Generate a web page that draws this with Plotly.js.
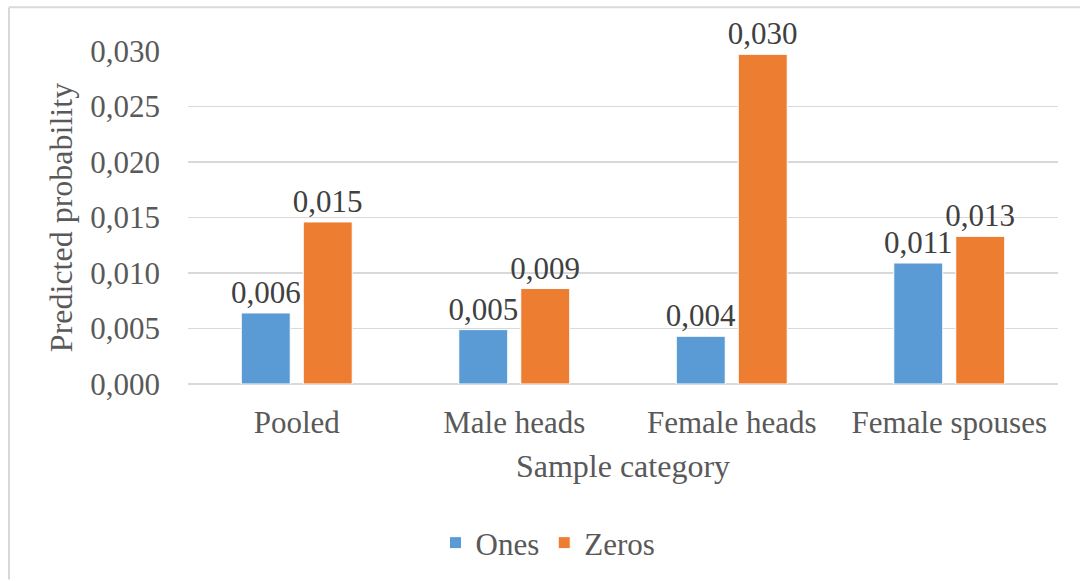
<!DOCTYPE html>
<html>
<head>
<meta charset="utf-8">
<script src="https://cdn.plot.ly/plotly-3.0.1.min.js"></script>
<style>
html,body{margin:0;padding:0;background:#fff;}
#chart{width:1080px;height:581px;}
</style>
</head>
<body>
<div id="chart"></div>
<script>
const categories = ["Pooled", "Male heads", "Female heads", "Female spouses"];
const onesValues = [0.0064, 0.0049, 0.0043, 0.0109];
const zerosValues = [0.0146, 0.0086, 0.0297, 0.0133];
const yTickValues = [0, 0.005, 0.01, 0.015, 0.02, 0.025, 0.03];

const fmt = v => v.toFixed(3).replace('.', ',');
const FONT = '"Liberation Serif", "Times New Roman", serif';

const common = {
  type: 'bar',
  x: categories,
  textposition: 'outside',
  constraintext: 'none',
  cliponaxis: false,
  textfont: {family: FONT, size: 31, color: '#404040'},
  hoverinfo: 'none'
};

const traces = [
  Object.assign({}, common, {
    name: 'Ones', y: onesValues, text: onesValues.map(fmt),
    marker: {color: '#5B9BD5', line: {color: '#ffffff', width: 1}}
  }),
  Object.assign({}, common, {
    name: 'Zeros', y: zerosValues, text: zerosValues.map(fmt),
    marker: {color: '#ED7D31', line: {color: '#ffffff', width: 1}}
  })
];

const L = 188, R = 22, T = 51, B = 196;
const W = 1080 - L - R, H = 581 - T - B;
const px = x => (x - L) / W;
const py = y => (581 - B - y) / H;

const layout = {
  width: 1080, height: 581,
  margin: {l: L, r: R, t: T, b: B, pad: 0},
  paper_bgcolor: '#ffffff', plot_bgcolor: '#ffffff',
  separators: ', ',
  barmode: 'group',
  bargap: 0.43,
  bargroupgap: 0.21,
  font: {family: FONT, size: 31, color: '#595959'},
  showlegend: true,
  legend: {
    orientation: 'h', x: px(548), xanchor: 'center', y: py(543), yanchor: 'middle',
    font: {family: FONT, size: 31, color: '#595959'},
    itemwidth: 30, tracegroupgap: 0
  },
  xaxis: {
    showgrid: false, showline: false, zeroline: false,
    ticks: '', ticklabelstandoff: 17,
    tickfont: {family: FONT, size: 31, color: '#595959'},
    title: {text: 'Sample category', standoff: 15, font: {family: FONT, size: 32, color: '#595959'}},
    automargin: false
  },
  yaxis: {
    range: [0, 0.03],
    tickvals: yTickValues,
    tickformat: '.3f',
    showgrid: true, gridcolor: '#d9d9d9', gridwidth: 1.5,
    zeroline: true, zerolinecolor: '#d9d9d9', zerolinewidth: 1.5,
    showline: false, ticks: '', ticklabelstandoff: 27,
    tickfont: {family: FONT, size: 31, color: '#595959'},
    title: {text: 'Predicted probability', standoff: 8, font: {family: FONT, size: 32, color: '#595959'}},
    automargin: false
  },
  shapes: [
    {type: 'line', xref: 'paper', yref: 'paper', x0: px(9), x1: px(1080), y0: py(7), y1: py(7),
     line: {color: '#d9d9d9', width: 2}},
    {type: 'line', xref: 'paper', yref: 'paper', x0: px(9), x1: px(9), y0: py(7), y1: py(581),
     line: {color: '#d9d9d9', width: 2}}
  ]
};

Plotly.newPlot('chart', traces, layout, {displayModeBar: false, staticPlot: true});
</script>
</body>
</html>
